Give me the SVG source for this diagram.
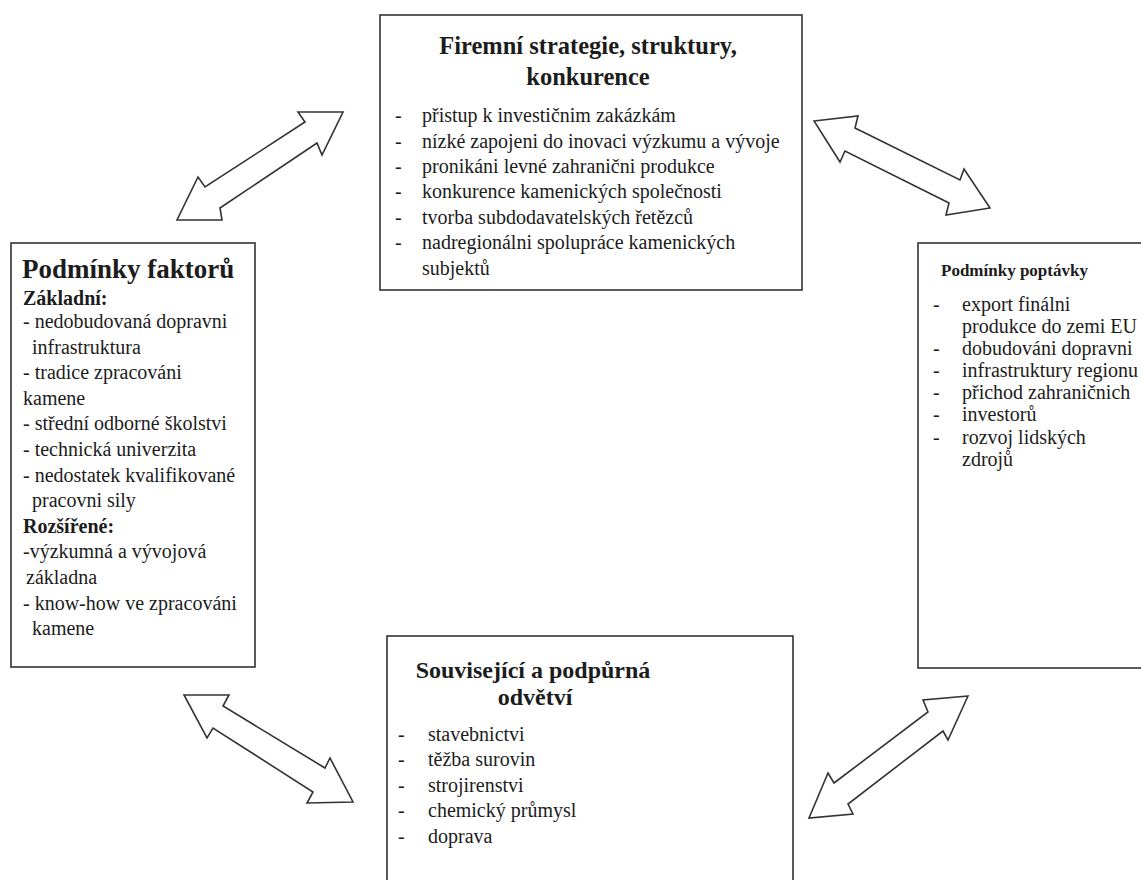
<svg xmlns="http://www.w3.org/2000/svg" width="1141" height="880" viewBox="0 0 1141 880">
<style>
.box{fill:#fff;stroke:#333;stroke-width:1.6}
.arrow{fill:#fff;stroke:#333;stroke-width:1.6;stroke-linejoin:miter}
.t{font-family:"Liberation Serif","Times New Roman",serif;font-size:20px;fill:#1c1c1c}
.b{font-weight:bold}
.h1{font-size:24.5px}
.h2{font-size:27px}
.h3{font-size:17px}
.h4{font-size:24px}
.c{text-anchor:middle}
</style>
<rect width="1141" height="880" fill="#fff"/>
<g id="connectors">
<polygon class="arrow" points="343,112 298,112 305,122 205,187 198,177 177,220 222,220 220,208 317,143 322,155"/>
<polygon class="arrow" points="814,121 858,116 855,128 960,180 964,169 990,208 946,215 949,203 845,151 840,162"/>
<polygon class="arrow" points="184,695 229,695 223,706 325,768 330,758 353,802 307,803 313,792 213,728 207,738"/>
<polygon class="arrow" points="968,696 923,700 928,712 834,783 828,773 809,818 853,814 848,804 943,731 948,740"/>
</g>
<g id="firemni">
<rect class="box" x="380" y="15" width="422" height="275"/>
<text class="t b h1 c" x="588" y="54">Firemní strategie, struktury,</text>
<text class="t b h1 c" x="588" y="85">konkurence</text>
<text class="t" x="395" y="122">-</text><text class="t" x="422" y="122">přistup k investičnim zakázkám</text>
<text class="t" x="395" y="148">-</text><text class="t" x="422" y="148">nízké zapojeni do inovaci výzkumu a vývoje</text>
<text class="t" x="395" y="173">-</text><text class="t" x="422" y="173">pronikáni levné zahranični produkce</text>
<text class="t" x="395" y="198">-</text><text class="t" x="422" y="198">konkurence kamenických společnosti</text>
<text class="t" x="395" y="224">-</text><text class="t" x="422" y="224">tvorba subdodavatelských řetězců</text>
<text class="t" x="395" y="249">-</text><text class="t" x="422" y="249">nadregionálni spolupráce kamenických</text>
<text class="t" x="422" y="275">subjektů</text>
</g>
<g id="faktory">
<rect class="box" x="11" y="243" width="244" height="424"/>
<text class="t b h2" x="22" y="278">Podmínky faktorů</text>
<text class="t b" x="23" y="305">Základní:</text>
<text class="t" x="23" y="328">- nedobudovaná dopravni</text>
<text class="t" x="32" y="354">infrastruktura</text>
<text class="t" x="23" y="379">- tradice zpracováni</text>
<text class="t" x="23" y="405">kamene</text>
<text class="t" x="23" y="430">- střední odborné školstvi</text>
<text class="t" x="23" y="456">- technická univerzita</text>
<text class="t" x="23" y="482">- nedostatek kvalifikované</text>
<text class="t" x="32" y="507">pracovni sily</text>
<text class="t b" x="23" y="533">Rozšířené:</text>
<text class="t" x="23" y="558">-výzkumná a vývojová</text>
<text class="t" x="26" y="584">základna</text>
<text class="t" x="23" y="610">- know-how ve zpracováni</text>
<text class="t" x="32" y="635">kamene</text>
</g>
<g id="poptavka">
<rect class="box" x="918" y="243" width="300" height="425"/>
<text class="t b h3" x="941" y="276">Podmínky poptávky</text>
<text class="t" x="933" y="311">-</text><text class="t" x="962" y="311">export finálni</text>
<text class="t" x="962" y="333">produkce do zemi EU</text>
<text class="t" x="933" y="355">-</text><text class="t" x="962" y="355">dobudováni dopravni</text>
<text class="t" x="933" y="377">-</text><text class="t" x="962" y="377">infrastruktury regionu</text>
<text class="t" x="933" y="399">-</text><text class="t" x="962" y="399">přichod zahraničnich</text>
<text class="t" x="933" y="421">-</text><text class="t" x="962" y="421">investorů</text>
<text class="t" x="933" y="444">-</text><text class="t" x="962" y="444">rozvoj lidských</text>
<text class="t" x="962" y="466">zdrojů</text>
</g>
<g id="souvisejici">
<rect class="box" x="387" y="636" width="406" height="300"/>
<text class="t b h4 c" x="533" y="678">Související a podpůrná</text>
<text class="t b h4 c" x="535" y="705">odvětví</text>
<text class="t" x="398" y="741">-</text><text class="t" x="428" y="741">stavebnictvi</text>
<text class="t" x="398" y="766">-</text><text class="t" x="428" y="766">těžba surovin</text>
<text class="t" x="398" y="792">-</text><text class="t" x="428" y="792">strojirenstvi</text>
<text class="t" x="398" y="817">-</text><text class="t" x="428" y="817">chemický průmysl</text>
<text class="t" x="398" y="843">-</text><text class="t" x="428" y="843">doprava</text>
</g>
</svg>
